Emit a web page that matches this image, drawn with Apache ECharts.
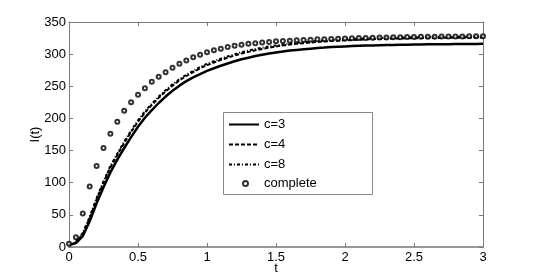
<!DOCTYPE html>
<html>
<head>
<meta charset="utf-8">
<script src="https://cdn.jsdelivr.net/npm/echarts@6/dist/echarts.min.js"></script>
<style>
html,body{margin:0;padding:0;background:#fff;}
#chart{width:534px;height:280px;}
</style>
</head>
<body>
<div id="chart"></div>
<script>
const tValues = [0,0.05,0.1,0.15,0.2,0.25,0.3,0.35,0.4,0.45,0.5,0.55,0.6,0.65,0.7,0.75,0.8,0.85,0.9,0.95,1.0,1.05,1.1,1.15,1.2,1.25,1.3,1.35,1.4,1.45,1.5,1.55,1.6,1.65,1.7,1.75,1.8,1.85,1.9,1.95,2.0,2.05,2.1,2.15,2.2,2.25,2.3,2.35,2.4,2.45,2.5,2.55,2.6,2.65,2.7,2.75,2.8,2.85,2.9,2.95,3.0];
const c3Values = [3,6,17,40,68,93,116,136,154,171,187,201,213,224,234,243,251,258,264,269,274,278,282,285.5,289,292,294.5,297,299,301,302.5,304,305.5,306.5,307.5,308.5,309.5,310.2,311,311.5,312,312.5,313,313.3,313.6,314,314.2,314.4,314.6,314.8,315,315.1,315.2,315.3,315.4,315.5,315.6,315.7,315.8,315.9,316];
const c4Values = [3,7,20,45,74,100,124,143,162,179,195,209,221,232,242,251,259,266,272,278,283,287,291,294.5,298,301,303.5,306,308,310,312,313.5,315,316,317,318,319,319.8,320.5,321,321.5,322,322.5,323,323.3,323.6,324,324.2,324.4,324.6,324.8,325,325.1,325.2,325.3,325.4,325.5,325.6,325.7,325.8,326];
const c8Values = [3,8,22,47,76,102,126,145,164,181,197,211,223,234,244,253,261,268,274,280,285,289,293,296.5,300,303,305.5,308,310,312,313.5,315,316.5,317.5,318.5,319.5,320.5,321.2,322,322.5,323,323.5,324,324.4,324.8,325.1,325.4,325.6,325.8,326,326.2,326.4,326.5,326.6,326.7,326.8,326.9,327,327.1,327.2,327.3];
const completeValues = [5,15,52,94,126,154,176,195,212,225,237,247,257,265,272,279,285,290,295,299,303,306,308.5,311,313,314.5,316,317,318,319,320,320.5,321,321.5,322,322.5,323,323.3,323.6,324,324.3,324.6,325,325.2,325.5,325.8,326,326.2,326.4,326.6,326.8,327,327.1,327.2,327.3,327.4,327.5,327.6,327.7,327.8,328];
const seriesNames = ['c=3','c=4','c=8','complete'];
const xTicks = {min:0, max:3, interval:0.5};
const yTicks = {min:0, max:350, interval:50};

function pairs(vals){ return tValues.map((t,i)=>[t, vals[i]]); }

const font = 'Liberation Sans, Arial, Helvetica, sans-serif';
const axisGray = '#7a7a7a';
const chart = echarts.init(document.getElementById('chart'), null, {renderer:'canvas'});
chart.setOption({
  animation:false,
  backgroundColor:'#fff',
  grid:{left:69, right:51, top:22, bottom:32, containLabel:false},
  xAxis:[{
    type:'value', min:xTicks.min, max:xTicks.max, interval:xTicks.interval, position:'bottom',
    name:'t', nameLocation:'middle', nameGap:15, nameMoveOverlap:false,
    nameTextStyle:{color:'#000', fontSize:13, fontFamily:font},
    axisLine:{show:true, onZero:false, lineStyle:{color:'#999', width:2}},
    axisTick:{show:true, inside:true, length:4, lineStyle:{color:axisGray}},
    axisLabel:{color:'#000', fontSize:13, fontFamily:font, margin:4},
    splitLine:{show:false}
  },{
    type:'value', min:xTicks.min, max:xTicks.max, interval:xTicks.interval, position:'top',
    axisLine:{show:true, onZero:false, lineStyle:{color:axisGray, width:1}},
    axisTick:{show:true, inside:true, length:4, lineStyle:{color:axisGray}},
    axisLabel:{show:false}, splitLine:{show:false}
  }],
  yAxis:[{
    type:'value', min:yTicks.min, max:yTicks.max, interval:yTicks.interval, position:'left',
    name:'I(t)', nameLocation:'middle', nameGap:27, nameRotate:90, nameMoveOverlap:false,
    nameTextStyle:{color:'#000', fontSize:13, fontFamily:font},
    axisLine:{show:true, onZero:false, lineStyle:{color:axisGray, width:1}},
    axisTick:{show:true, inside:true, length:4, lineStyle:{color:axisGray}},
    axisLabel:{color:'#000', fontSize:13, fontFamily:font, margin:3},
    splitLine:{show:false}
  },{
    type:'value', min:yTicks.min, max:yTicks.max, interval:yTicks.interval, position:'right',
    axisLine:{show:true, onZero:false, lineStyle:{color:axisGray, width:1}},
    axisTick:{show:true, inside:true, length:4, lineStyle:{color:axisGray}},
    axisLabel:{show:false}, splitLine:{show:false}
  }],
  graphic:[{
    type:'rect', z:3, left:223, top:112,
    shape:{width:149, height:82},
    style:{fill:'#fff', stroke:'#888', lineWidth:1}
  }],
  legend:[{
    data:[seriesNames[0], seriesNames[1], seriesNames[2]],
    orient:'vertical', left:228, top:118, padding:0,
    itemWidth:30, itemHeight:14, itemGap:7,
    itemStyle:{opacity:0},
    textStyle:{color:'#000', fontSize:13, fontFamily:font}
  },{
    data:[{name:seriesNames[3], icon:'emptyCircle'}],
    orient:'vertical', left:242, top:177, padding:0,
    itemWidth:5, itemHeight:5,
    itemStyle:{borderWidth:1},
    textStyle:{color:'#000', fontSize:13, fontFamily:font, padding:[0,0,0,11]}
  }],
  series:[{
    name:seriesNames[0], type:'line', data:pairs(c3Values), symbol:'none', z:2,
    lineStyle:{color:'#000', width:2.5, type:'solid'}, itemStyle:{color:'#000'}
  },{
    name:seriesNames[1], type:'line', data:pairs(c4Values), symbol:'none', z:2,
    lineStyle:{color:'#000', width:2, type:[4,2]}, itemStyle:{color:'#000'}
  },{
    name:seriesNames[2], type:'line', data:pairs(c8Values), symbol:'none', z:2,
    lineStyle:{color:'#000', width:2, type:[3,2,1,2]}, itemStyle:{color:'#000'}
  },{
    name:seriesNames[3], type:'scatter', data:pairs(completeValues), z:2,
    symbol:'emptyCircle', symbolSize:4,
    itemStyle:{color:'#000', borderColor:'#000', borderWidth:0.9}
  }]
});
</script>
</body>
</html>
